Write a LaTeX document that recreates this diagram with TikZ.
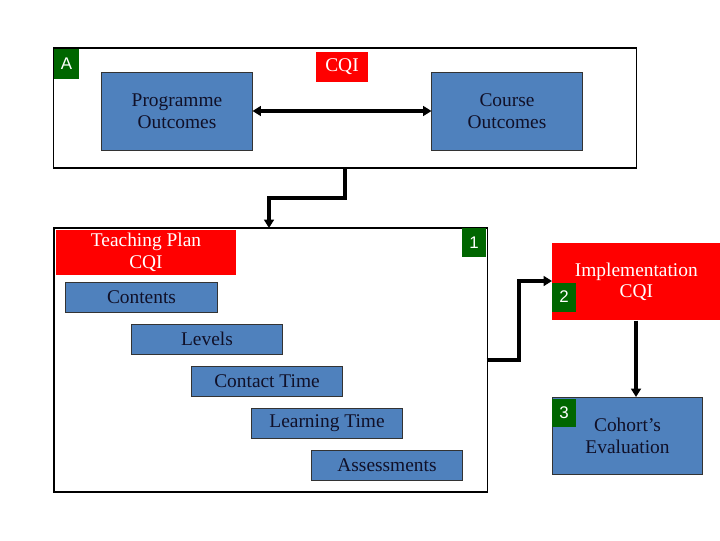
\documentclass[tikz,border=0pt]{standalone}
\usepackage{fontspec}
\setmainfont{Liberation Serif}
\newfontfamily\labelfont{Liberation Sans}
\usetikzlibrary{arrows.meta}
\definecolor{boxblue}{HTML}{4F81BD}
\definecolor{boxred}{HTML}{FF0000}
\definecolor{boxgreen}{HTML}{006600}
\definecolor{navytext}{HTML}{101028}
\tikzset{
  frame/.style={draw=black, line width=0.8pt, fill=white, inner sep=0pt},
  bluebox/.style={draw=black!80, line width=0.7pt, fill=boxblue, text=navytext, align=center, inner sep=0pt,
    font=\fontsize{13.8}{15.5}\selectfont},
  redbox/.style={fill=boxred, text=white, align=center, inner sep=0pt, font=\fontsize{13.8}{15.5}\selectfont},
  numbox/.style={fill=boxgreen, text=white, inner sep=0pt, font=\labelfont\fontsize{12}{14}\selectfont},
  conn/.style={line width=3pt, -{Triangle[length=6pt,width=7pt]}},
  dconn/.style={line width=3pt, {Triangle[length=6pt,width=7pt]}-{Triangle[length=6pt,width=7pt]}}
}
\begin{document}
\begin{tikzpicture}[x=0.025cm,y=-0.025cm]
\useasboundingbox (0,0) rectangle (720,540);
% top frame
\node[frame, minimum width=14.55cm, minimum height=3cm] (boxA) at (345,108) {};
\node[numbox, minimum width=0.62cm, minimum height=0.75cm] (lA) at (66.5,64) {A};
\node[redbox, minimum width=1.3cm, minimum height=0.75cm] (cqi) at (342,67) {CQI};
\node[bluebox, minimum width=3.75cm, minimum height=1.95cm] (po) at (177,111) {Programme\\Outcomes};
\node[bluebox, minimum width=3.75cm, minimum height=1.95cm] (co) at (507,111) {Course\\Outcomes};
\draw[dconn] (po.east) -- (co.west);
% frame 1
\node[frame, minimum width=10.825cm, minimum height=6.6cm] (box1) at (270.5,360) {};
\node[redbox, minimum width=4.5cm, minimum height=1.125cm] (tp) at (146,252.5) {Teaching Plan\\CQI};
\node[numbox, minimum width=0.6cm, minimum height=0.725cm] (l1) at (474,242.5) {1};
\node[bluebox, minimum width=3.775cm, minimum height=0.75cm] (cont) at (141.5,297) {Contents};
\node[bluebox, minimum width=3.75cm, minimum height=0.75cm] (lev) at (207,339) {Levels};
\node[bluebox, minimum width=3.75cm, minimum height=0.75cm] (ct) at (267,381) {Contact Time};
\node[bluebox, minimum width=3.75cm, minimum height=0.75cm] (lt) at (327,423) {Learning Time};
\node[bluebox, minimum width=3.75cm, minimum height=0.75cm] (as) at (387,465) {Assessments};
% right side
\node[redbox, minimum width=4.2cm, minimum height=1.925cm, anchor=north west] (impl) at (552,243) {Implementation\\CQI};
\node[numbox, minimum width=0.6cm, minimum height=0.725cm] (l2) at (564,297) {2};
\node[bluebox, minimum width=3.75cm, minimum height=1.925cm, anchor=north west] (coh) at (552,397) {Cohort's\\Evaluation};
\node[numbox, minimum width=0.6cm, minimum height=0.7cm] (l3) at (564,413) {3};
% connectors
\coordinate (b1top) at (269,228);
\draw[conn] (boxA.south -| 345,0) -- (345,198) -- (269,198) -- (b1top);
\coordinate (b1right) at (486.5,360);
\coordinate (implin) at (552,281);
\draw[conn] (b1right) -- (519,360) -- (519,281) -- (implin);
\draw[conn] (impl.south -| 636,0) -- (coh.north -| 636,0);
\end{tikzpicture}
\end{document}
